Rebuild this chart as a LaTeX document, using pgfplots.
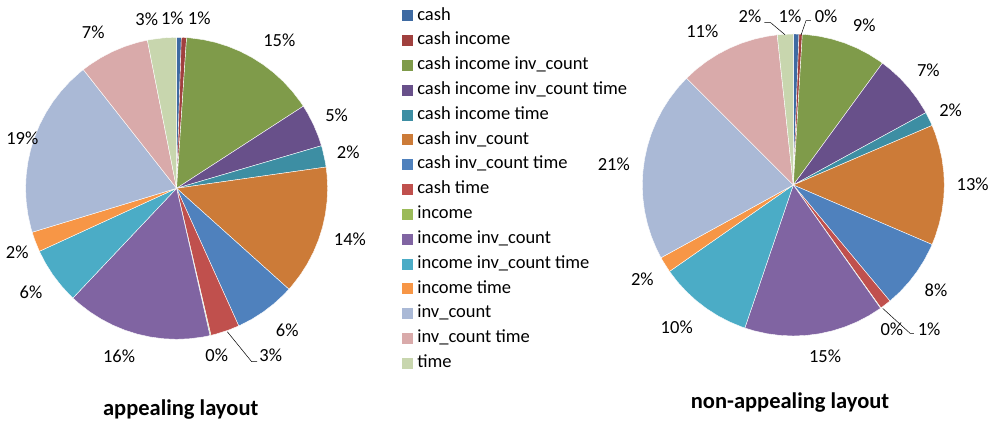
\documentclass[border=0pt]{standalone}
\usepackage{pgfplots}
\pgfplotsset{compat=1.18}
\usepackage{fontspec}
\setmainfont{Carlito}
\definecolor{c1}{HTML}{3E6AA2}
\definecolor{c2}{HTML}{A0403E}
\definecolor{c3}{HTML}{7F9B4A}
\definecolor{c4}{HTML}{68508A}
\definecolor{c5}{HTML}{3D8EA3}
\definecolor{c6}{HTML}{CC7B38}
\definecolor{c7}{HTML}{4F81BD}
\definecolor{c8}{HTML}{C0504D}
\definecolor{c9}{HTML}{9BBB59}
\definecolor{c10}{HTML}{8064A2}
\definecolor{c11}{HTML}{4BACC6}
\definecolor{c12}{HTML}{F79646}
\definecolor{c13}{HTML}{AAB9D6}
\definecolor{c14}{HTML}{D9AAAA}
\definecolor{c15}{HTML}{C8D6AE}
\newcommand{\lblfont}{\fontsize{18.5}{22}\selectfont}
\pgfplotsset{
  pieaxis/.style={x=151pt, y=151pt, xmin=-1, xmax=1, ymin=-1, ymax=1,
    hide axis, clip=false},
  slice/.style={fill=#1, draw=white, line width=0.4pt, data cs=polar},
  pielabels/.style={forget plot, draw=none, mark=none, nodes near coords,
    point meta=explicit symbolic, nodes near coords align={center},
    every node near coord/.append style={font=\lblfont, anchor=center, inner sep=0pt, text=black}},
  leader/.style={forget plot, black, line width=0.5pt, mark=none},
}
\begin{document}
\begin{tikzpicture}[x=1pt,y=1pt]
\path[use as bounding box] (0,0) rectangle (998,423);
% ---------------- appealing layout ----------------
% shares (%): 0.5 0.55 14.8 4.6 2.3 13.9 6.6 3.1 0.1 15.6 6.1 2.15 19.1 7.5 3.1
\begin{axis}[pieaxis, at={(176.6pt,234.7pt)}, anchor=center,
  legend cell align=left,
  legend style={at={(axis description cs:1.2474,1.1003)}, anchor=north west,
    draw=none, fill=none, inner sep=0pt, outer sep=0pt,
    row sep=7.33pt, column sep=4pt, font=\lblfont,
    nodes={inner sep=0pt, text height=13pt, text depth=4.5pt}},
  legend image code/.code={\fill[#1, draw=none] (0pt,-5.5pt) rectangle (11pt,5.5pt);},
]
\addplot[slice=c1] coordinates {(0,0) (90,1) (88.2,1) (0,0)};
\addlegendentry{cash}
\addplot[slice=c2] coordinates {(0,0) (88.2,1) (86.22,1) (0,0)};
\addlegendentry{cash income}
\addplot[slice=c3] coordinates {(0,0) (86.22,1) (85,1) (80,1) (75,1) (70,1) (65,1) (60,1) (55,1) (50,1) (45,1) (40,1) (35,1) (32.94,1) (0,0)};
\addlegendentry{cash income inv\_count}
\addplot[slice=c4] coordinates {(0,0) (32.94,1) (30,1) (25,1) (20,1) (16.38,1) (0,0)};
\addlegendentry{cash income inv\_count time}
\addplot[slice=c5] coordinates {(0,0) (16.38,1) (15,1) (10,1) (8.1,1) (0,0)};
\addlegendentry{cash income time}
\addplot[slice=c6] coordinates {(0,0) (8.1,1) (5,1) (0,1) (-5,1) (-10,1) (-15,1) (-20,1) (-25,1) (-30,1) (-35,1) (-40,1) (-41.94,1) (0,0)};
\addlegendentry{cash inv\_count}
\addplot[slice=c7] coordinates {(0,0) (-41.94,1) (-45,1) (-50,1) (-55,1) (-60,1) (-65,1) (-65.7,1) (0,0)};
\addlegendentry{cash inv\_count time}
\addplot[slice=c8] coordinates {(0,0) (-65.7,1) (-70,1) (-75,1) (-76.86,1) (0,0)};
\addlegendentry{cash time}
\addplot[slice=c9] coordinates {(0,0) (-76.86,1) (-77.22,1) (0,0)};
\addlegendentry{income}
\addplot[slice=c10] coordinates {(0,0) (-77.22,1) (-80,1) (-85,1) (-90,1) (-95,1) (-100,1) (-105,1) (-110,1) (-115,1) (-120,1) (-125,1) (-130,1) (-133.38,1) (0,0)};
\addlegendentry{income inv\_count}
\addplot[slice=c11] coordinates {(0,0) (-133.38,1) (-135,1) (-140,1) (-145,1) (-150,1) (-155,1) (-155.34,1) (0,0)};
\addlegendentry{income inv\_count time}
\addplot[slice=c12] coordinates {(0,0) (-155.34,1) (-160,1) (-163.08,1) (0,0)};
\addlegendentry{income time}
\addplot[slice=c13] coordinates {(0,0) (-163.08,1) (-165,1) (-170,1) (-175,1) (-180,1) (-185,1) (-190,1) (-195,1) (-200,1) (-205,1) (-210,1) (-215,1) (-220,1) (-225,1) (-230,1) (-231.84,1) (0,0)};
\addlegendentry{inv\_count}
\addplot[slice=c14] coordinates {(0,0) (-231.84,1) (-235,1) (-240,1) (-245,1) (-250,1) (-255,1) (-258.84,1) (0,0)};
\addlegendentry{inv\_count time}
\addplot[slice=c15] coordinates {(0,0) (-258.84,1) (-260,1) (-265,1) (-270,1) (0,0)};
\addlegendentry{time}
\addplot[leader] coordinates {(0.336,-0.950) (0.497,-1.148) (0.534,-1.148)};
\addplot[pielabels] coordinates {
 (-0.028,1.126) [1\%]
 (0.150,1.126) [1\%]
 (0.680,0.982) [15\%]
 (1.060,0.481) [5\%]
 (1.137,0.236) [2\%]
 (1.148,-0.336) [14\%]
 (0.733,-0.938) [6\%]
 (0.623,-1.107) [3\%]
 (0.266,-1.107) [0\%]
 (-0.381,-1.115) [16\%]
 (-0.964,-0.691) [6\%]
 (-1.055,-0.424) [2\%]
 (-1.022,0.331) [19\%]
 (-0.552,1.030) [7\%]
 (-0.198,1.119) [3\%]
};
\end{axis}
% ---------------- non-appealing layout ----------------
% shares (%): 0.6 0.35 9.1 7.0 1.5 12.9 7.5 1.2 0.05 15.0 10.1 1.7 20.5 10.8 1.7
\begin{axis}[pieaxis, at={(793.3pt,238pt)}, anchor=center]
\addplot[slice=c1] coordinates {(0,0) (90,1) (87.84,1) (0,0)};
\addplot[slice=c2] coordinates {(0,0) (87.84,1) (86.58,1) (0,0)};
\addplot[slice=c3] coordinates {(0,0) (86.58,1) (85,1) (80,1) (75,1) (70,1) (65,1) (60,1) (55,1) (53.82,1) (0,0)};
\addplot[slice=c4] coordinates {(0,0) (53.82,1) (50,1) (45,1) (40,1) (35,1) (30,1) (28.62,1) (0,0)};
\addplot[slice=c5] coordinates {(0,0) (28.62,1) (25,1) (23.22,1) (0,0)};
\addplot[slice=c6] coordinates {(0,0) (23.22,1) (20,1) (15,1) (10,1) (5,1) (0,1) (-5,1) (-10,1) (-15,1) (-20,1) (-23.22,1) (0,0)};
\addplot[slice=c7] coordinates {(0,0) (-23.22,1) (-25,1) (-30,1) (-35,1) (-40,1) (-45,1) (-50,1) (-50.22,1) (0,0)};
\addplot[slice=c8] coordinates {(0,0) (-50.22,1) (-54.54,1) (0,0)};
\addplot[slice=c9] coordinates {(0,0) (-54.54,1) (-54.72,1) (0,0)};
\addplot[slice=c10] coordinates {(0,0) (-54.72,1) (-55,1) (-60,1) (-65,1) (-70,1) (-75,1) (-80,1) (-85,1) (-90,1) (-95,1) (-100,1) (-105,1) (-108.72,1) (0,0)};
\addplot[slice=c11] coordinates {(0,0) (-108.72,1) (-110,1) (-115,1) (-120,1) (-125,1) (-130,1) (-135,1) (-140,1) (-145,1) (-145.08,1) (0,0)};
\addplot[slice=c12] coordinates {(0,0) (-145.08,1) (-150,1) (-151.2,1) (0,0)};
\addplot[slice=c13] coordinates {(0,0) (-151.2,1) (-155,1) (-160,1) (-165,1) (-170,1) (-175,1) (-180,1) (-185,1) (-190,1) (-195,1) (-200,1) (-205,1) (-210,1) (-215,1) (-220,1) (-225,1) (0,0)};
\addplot[slice=c14] coordinates {(0,0) (-225,1) (-230,1) (-235,1) (-240,1) (-245,1) (-250,1) (-255,1) (-260,1) (-263.88,1) (0,0)};
\addplot[slice=c15] coordinates {(0,0) (-263.88,1) (-265,1) (-270,1) (0,0)};
\addplot[leader] coordinates {(-0.192,1.075) (-0.150,1.075) (-0.055,0.995)};
\addplot[leader] coordinates {(0.117,1.088) (0.084,1.088) (0.052,0.995)};
\addplot[leader] coordinates {(0.592,-0.817) (0.773,-0.982) (0.799,-0.982)};
\addplot[pielabels] coordinates {
 (-0.022,1.119) [1\%]
 (0.217,1.119) [0\%]
 (0.470,1.060) [9\%]
 (0.894,0.762) [7\%]
 (1.042,0.497) [2\%]
 (1.188,0.005) [13\%]
 (0.945,-0.695) [8\%]
 (0.899,-0.956) [1\%]
 (0.653,-0.956) [0\%]
 (0.210,-1.132) [15\%]
 (-0.772,-0.942) [10\%]
 (-1.000,-0.623) [2\%]
 (-1.189,0.139) [21\%]
 (-0.603,1.015) [11\%]
 (-0.287,1.115) [2\%]
};
\end{axis}
\node[font=\bfseries\fontsize{22.5}{27}\selectfont] at (180.7,13.7) {appealing layout};
\node[font=\bfseries\fontsize{22.5}{27}\selectfont] at (790,20.7) {non-appealing layout};
\end{tikzpicture}
\end{document}
